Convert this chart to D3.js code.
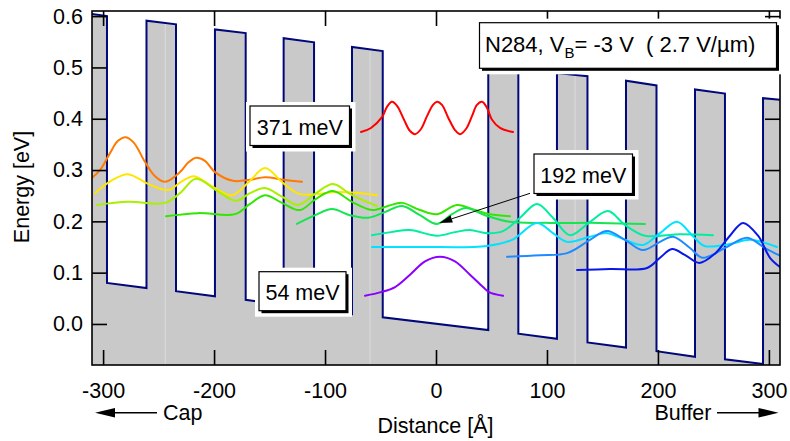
<!DOCTYPE html>
<html>
<head>
<meta charset="utf-8">
<script src="https://cdn.jsdelivr.net/npm/d3@7"></script>
<style>
  html, body { margin: 0; padding: 0; background: #fff; }
  svg { display: block; font-family: "Liberation Sans", Arial, Helvetica, sans-serif; }
</style>
</head>
<body>
<svg id="chart" width="790" height="441"></svg>
<script>
// Conduction-band edge under bias: vertices (distance in Å, energy in eV)
const bandX = [-310, -296.5, -296.5, -260.9, -260.9, -234.3, -234.3, -199.2, -199.2, -171.5,
  -171.5, -137.3, -137.3, -109.9, -109.9, -75.7, -75.7, -48.0, -48.0, 47.1,
  47.1, 74.2, 74.2, 109.0, 109.0, 136.5, 136.5, 171.2, 171.2, 198.7,
  198.7, 233.4, 233.4, 260.4, 260.4, 294.7, 294.7, 310];
const bandE = [0.604, 0.600, 0.080, 0.070, 0.591, 0.584, 0.064, 0.054, 0.574, 0.567,
  0.047, 0.037, 0.557, 0.549, 0.028, 0.019, 0.540, 0.532, 0.013, -0.012,
  0.507, 0.499, -0.019, -0.029, 0.489, 0.483, -0.036, -0.046, 0.474, 0.465,
  -0.053, -0.064, 0.457, 0.449, -0.069, -0.078, 0.440, 0.437];

// faint seams in the filled barrier region (Å)
const seams = [-244, -59.4, 125.3];

// state energies (eV)
const levels = [0.371, 0.277, 0.252, 0.232, 0.211, 0.192, 0.173, 0.150, 0.132, 0.107, 0.054];

// |psi|^2 profiles drawn about each level: [distance Å, offset eV]
const wfRed = [[-67.6,0.003],[-58.6,0.011],[-48.7,0.032],[-44.2,0.052],[-39.7,0.062],[-35.1,0.054],
  [-28.8,0.027],[-23.4,0.005],[-18.9,-0.001],[-13.5,0.009],[-8.1,0.034],[-2.7,0.056],[0.9,0.062],
  [5.4,0.056],[10.8,0.032],[17.1,0.007],[21.6,-0.001],[27,0.009],[32.4,0.034],[36.9,0.056],
  [41.5,0.062],[46,0.050],[50.5,0.027],[57.7,0.011],[69.4,0.003]];
const wfOrange = [[-310,0.008],[-302.8,0.023],[-293.8,0.056],[-286.6,0.080],[-279.4,0.087],[-272.2,0.076],
  [-262.3,0.039],[-253.2,0.011],[-244.2,0],[-230.7,0.019],[-223.5,0.037],[-216.3,0.047],[-208.2,0.041],
  [-199.2,0.019],[-182.9,0.002],[-167.6,0.004],[-154.1,0.009],[-137,0.004],[-120.8,0]];
const wfYellow = [[-307.3,0.003],[-292.9,0.027],[-277.6,0.040],[-259.5,0.021],[-241.5,0.009],[-229.8,0.025],
  [-218.1,0.036],[-201,0.015],[-183.8,-0.001],[-168.5,0.025],[-154.1,0.052],[-137.9,0.023],[-122.6,0.001],
  [-86.5,0.005],[-53.2,-0.001]];
const wfChartreuse = [[-305.5,0],[-277.6,0.006],[-244.2,0.004],[-230.7,0.023],[-216.3,0.051],[-198.3,0.029],
  [-180.2,0.008],[-167.6,0.023],[-154.1,0.033],[-138.8,0.016],[-124.4,0],[-108.1,0.023],[-92.8,0.041],
  [-75.7,0.019],[-53.2,-0.002]];
const wfGreen = [[-243.3,-0.001],[-214.5,0.005],[-181.1,0.003],[-167.6,0.023],[-154.1,0.040],[-138.8,0.025],
  [-122.6,0.011],[-108.1,0.033],[-92.8,0.048],[-75.7,0.027],[-57.7,0.011],[-43.3,0.019],[-30.6,0.025],
  [-14.4,0.011],[0.9,0.003],[18.9,0.021],[35.1,0.011],[48.7,0.003],[66.7,-0.001]];
const wfGreen2 = [[-125.3,0.003],[-109,0.020],[-93.7,0.032],[-77.5,0.020],[-61.3,0.015],[-46,0.026],
  [-30.6,0.038],[-14.4,0.020],[0.9,0.003],[14.4,0.022],[27,0.034],[44.2,0.020],[66.7,0.007],
  [102.7,0.005],[147.8,0.005],[188.3,0.003]];
const wfSeafoam = [[-57.7,0],[-40.6,0.006],[-23.4,0.010],[0.9,-0.001],[17.1,0.006],[30.6,0.010],[46,0.004],
  [60.4,0.008],[75.7,0.034],[91,0.061],[105.4,0.034],[120.8,0],[138.8,0.026],[155,0.047],[170.3,0.020],
  [188.3,-0.001],[219.9,0.002],[249.6,0]];
const wfCyan = [[-57.7,0],[-14.4,0],[46,0.002],[68.5,0.014],[91,0.047],[105.4,0.027],[118.1,0.010],
  [138.8,0.020],[154.1,0.027],[170.3,0.014],[186.5,0.004],[201.9,0.027],[217.2,0.049],[230.7,0.023],
  [241.9,0.002],[264.9,0.006],[283,0.014],[307.3,0]];
const wfSky = [[64,-0.001],[93.7,0.002],[118.1,0.006],[138.8,0.032],[154.1,0.049],[170.3,0.032],
  [186.5,0.012],[201.9,0.028],[213.6,0.038],[228.9,0.016],[240.1,-0.003],[260.4,0.016],[280.3,0.036],
  [296.5,0.016],[310,0.001]];
const wfBlue = [[127.1,-0.002],[156.9,0],[190.2,0.002],[201.9,0.022],[212.7,0.039],[225.3,0.026],
  [237.4,0.012],[251.4,0.030],[264.9,0.065],[276.7,0.090],[290.2,0.065],[301,0.022],[310,0.004]];
const wfViolet = [[-64,0.001],[-49.6,0.008],[-36.9,0.018],[-23.4,0.042],[-9.9,0.068],[3.6,0.077],
  [17.1,0.068],[30.6,0.042],[42.4,0.018],[47.8,0.008],[60.4,0.001]];

const wavefunctions = [wfRed, wfOrange, wfYellow, wfChartreuse, wfGreen, wfGreen2,
  wfSeafoam, wfCyan, wfSky, wfBlue, wfViolet];

// axis ticks
const xTicks = [-300, -200, -100, 0, 100, 200, 300];
const xTickLabels = ["-300", "-200", "-100", "0", "100", "200", "300"];
const yTicks = [0, 0.1, 0.2, 0.3, 0.4, 0.5, 0.6];
const yTickLabels = ["0.0", "0.1", "0.2", "0.3", "0.4", "0.5", "0.6"];

// ---- styles ----
const stateColors = ["#ff0000", "#ff7a00", "#ffe600", "#a8f000", "#33e600", "#14e650",
  "#00eea0", "#00e2ff", "#1e8cff", "#0818e8", "#8a00ff"];
const FS = 21.5;

const svg = d3.select("#chart");
const L = 92, R = 780, T = 11, B = 365;
const x = d3.scaleLinear().domain([-310, 310]).range([L, R]);
const y = d3.scaleLinear().domain([-0.08, 0.61]).range([B, T]);

const defs = svg.append("defs");
defs.append("clipPath").attr("id", "plotClip")
  .append("rect").attr("x", L).attr("y", T).attr("width", R - L).attr("height", B - T);

const band = bandX.map((v, i) => [v, bandE[i]]);
const area = d3.area().x(d => x(d[0])).y0(B).y1(d => y(d[1]));
defs.append("clipPath").attr("id", "bandClip")
  .append("path").attr("d", area(band));

const plot = svg.append("g").attr("clip-path", "url(#plotClip)");

// filled barrier material
plot.append("path").attr("d", area(band)).attr("fill", "#c9c9c9");

plot.append("g").attr("clip-path", "url(#bandClip)")
  .selectAll("line").data(seams).join("line")
  .attr("x1", d => x(d)).attr("x2", d => x(d))
  .attr("y1", T).attr("y2", B)
  .attr("stroke", "#dcdcdc").attr("stroke-width", 1);

// band-edge outline
plot.append("path")
  .attr("d", d3.line().x(d => x(d[0])).y(d => y(d[1]))(band))
  .attr("fill", "none").attr("stroke", "#00087a").attr("stroke-width", 2)
  .attr("stroke-linejoin", "miter");

// wavefunctions
wavefunctions.forEach((wf, i) => {
  const lvl = levels[i];
  const line = d3.line()
    .x(d => x(d[0]))
    .y(d => y(lvl + d[1]))
    .curve(d3.curveCatmullRom.alpha(0.5));
  plot.append("path").attr("d", line(wf))
    .attr("fill", "none").attr("stroke", stateColors[i])
    .attr("stroke-width", 2).attr("stroke-linecap", "round");
});

// axes (ticks pointing inward on all four sides)
const axB = svg.append("g").attr("transform", `translate(0,${B})`)
  .call(d3.axisBottom(x).tickValues(xTicks).tickFormat((d, i) => xTickLabels[i])
    .tickSize(-15).tickPadding(18));
const axT = svg.append("g").attr("transform", `translate(0,${T})`)
  .call(d3.axisTop(x).tickValues(xTicks).tickFormat(() => "").tickSize(-15));
const axL = svg.append("g").attr("transform", `translate(${L},0)`)
  .call(d3.axisLeft(y).tickValues(yTicks).tickFormat((d, i) => yTickLabels[i])
    .tickSize(-15).tickPadding(9));
const axR = svg.append("g").attr("transform", `translate(${R},0)`)
  .call(d3.axisRight(y).tickValues(yTicks).tickFormat(() => "").tickSize(-15));
[axB, axT, axL, axR].forEach(g => {
  g.select(".domain").remove();
  g.selectAll(".tick line").attr("stroke", "#000").attr("stroke-width", 1.6);
  g.selectAll("text").attr("fill", "#000").style("font-size", FS + "px")
    .style("font-family", '"Liberation Sans", Arial, sans-serif');
});

svg.append("rect").attr("x", L).attr("y", T).attr("width", R - L).attr("height", B - T)
  .attr("fill", "none").attr("stroke", "#000").attr("stroke-width", 1.6);

// axis titles
svg.append("text").attr("x", 435.5).attr("y", 433).attr("text-anchor", "middle")
  .style("font-size", FS + "px").text("Distance [Å]");
svg.append("text").attr("transform", "translate(28.5,187) rotate(-90)")
  .attr("text-anchor", "middle").style("font-size", FS + "px").text("Energy [eV]");

// direction hints under the axis
function hArrow(x1, x2, yy) {
  const dir = Math.sign(x2 - x1), head = 20, hw = 4.8;
  svg.append("line").attr("x1", x1).attr("x2", x2 - dir * head * 0.8).attr("y1", yy).attr("y2", yy)
    .attr("stroke", "#000").attr("stroke-width", 1.6);
  svg.append("path")
    .attr("d", `M${x2},${yy} L${x2 - dir * head},${yy - hw} L${x2 - dir * head},${yy + hw} Z`)
    .attr("fill", "#000");
}
hArrow(157, 95, 412.7);
svg.append("text").attr("x", 163).attr("y", 420).style("font-size", FS + "px").text("Cap");
hArrow(717, 778.5, 412.7);
svg.append("text").attr("x", 711.5).attr("y", 420).attr("text-anchor", "end")
  .style("font-size", FS + "px").text("Buffer");

// boxed annotations with drop shadow
function shadowBox(bx, by, bw, bh) {
  svg.append("rect").attr("x", bx - 4).attr("y", by - 4).attr("width", bw + 10).attr("height", bh + 10)
    .attr("fill", "#fff");
  svg.append("rect").attr("x", bx + 2.5).attr("y", by + 2.5).attr("width", bw).attr("height", bh)
    .attr("fill", "#000");
  svg.append("rect").attr("x", bx).attr("y", by).attr("width", bw).attr("height", bh)
    .attr("fill", "#fff").attr("stroke", "#000").attr("stroke-width", 1.2);
}
function levelLabel(bx, by, bw, bh, energy) {
  shadowBox(bx, by, bw, bh);
  svg.append("text").attr("x", bx + bw / 2).attr("y", by + bh / 2 + 9)
    .attr("text-anchor", "middle").style("font-size", FS + "px")
    .text(`${Math.round(energy * 1000)} meV`);
}

// pointer from the 192 meV label to its state
const tipX = x(3), tipY = y(levels[5] + 0.005);
const sx = 531, sy = 193;
const ang = Math.atan2(tipY - sy, tipX - sx);
const hl = 13, hw = 3.8;
const bx0 = tipX - hl * Math.cos(ang), by0 = tipY - hl * Math.sin(ang);
svg.append("line").attr("x1", sx).attr("y1", sy).attr("x2", bx0).attr("y2", by0)
  .attr("stroke", "#000").attr("stroke-width", 1);
svg.append("path")
  .attr("d", `M${tipX},${tipY} L${bx0 - hw * Math.sin(ang)},${by0 + hw * Math.cos(ang)} L${bx0 + hw * Math.sin(ang)},${by0 - hw * Math.cos(ang)} Z`)
  .attr("fill", "#000");

levelLabel(250, 106, 99.5, 39.5, levels[0]);
levelLabel(534, 154, 98.5, 39.5, levels[5]);
levelLabel(259, 271.7, 87, 39, levels[10]);

// sample / bias legend
shadowBox(479.5, 22.7, 297, 45.6);
const lg = svg.append("text").attr("x", 485).attr("y", 51.5)
  .style("font-size", "22px").style("white-space", "pre");
lg.append("tspan").text("N284, V");
lg.append("tspan").attr("dy", 6).style("font-size", "15px").text("B");
lg.append("tspan").attr("dy", -6).text("= -3 V  ( 2.7 V/µm)");
</script>
</body>
</html>
